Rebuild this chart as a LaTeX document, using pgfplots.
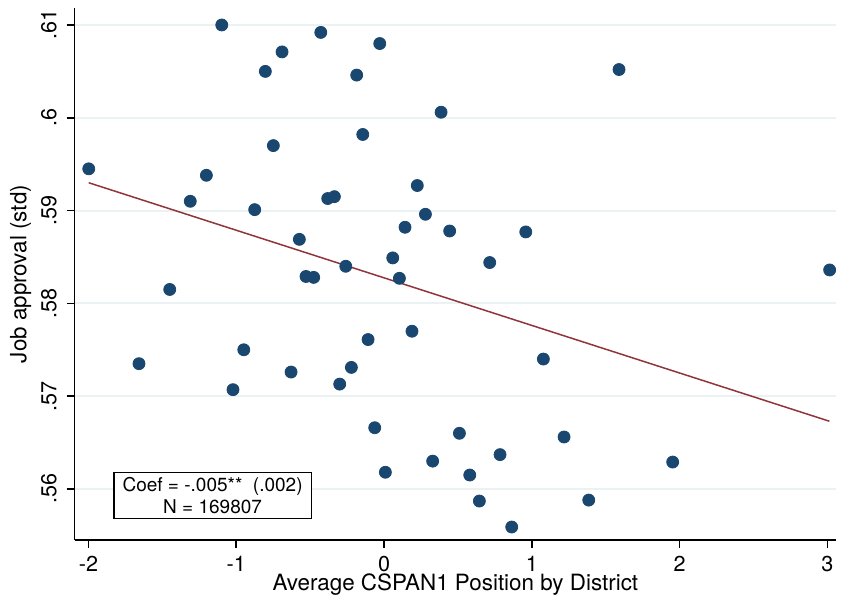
\documentclass[border=0pt]{standalone}
\usepackage{pgfplots}
\pgfplotsset{compat=1.18}
\usepackage{fontspec}
\setmainfont{TeX Gyre Heros}
\definecolor{stnavy}{RGB}{26,71,111}
\definecolor{stmaroon}{RGB}{144,53,59}
\definecolor{stgrid}{RGB}{234,242,243}
\begin{document}
\begin{tikzpicture}
\useasboundingbox (-37.35pt,-30pt) rectangle (383.15pt,270pt);
\begin{axis}[
  at={(0,0)}, anchor=south west,
  scale only axis, width=380.65pt, height=266pt,
  xmin=-2.093, xmax=3.058, ymin=0.5545, ymax=0.61183,
  axis x line*=bottom, axis y line*=left,
  axis line style={black, line width=0.8pt, -},
  xtick={-2,-1,0,1,2,3}, xticklabels={-2,-1,0,1,2,3},
  ytick={0.56,0.57,0.58,0.59,0.6,0.61}, yticklabels={.56,.57,.58,.59,.6,.61},
  tick align=outside, major tick length=4pt,
  tick style={black, line width=0.8pt},
  ymajorgrids, grid style={stgrid, line width=1pt},
  tick label style={font=\fontsize{10.8}{12}\selectfont},
  xticklabel style={yshift=-0.5pt},
  yticklabel style={rotate=90, anchor=south, yshift=1.5pt},
  xlabel={Average CSPAN1 Position by District},
  ylabel={Job approval (std)},
  label style={font=\fontsize{11.2}{13}\selectfont},
  xlabel style={at={(axis description cs:0.5,0)}, anchor=center, yshift=-22.5pt},
  ylabel style={at={(axis description cs:0,0.5)}, anchor=center, yshift=27pt},
  clip=false,
]
\addplot[only marks, mark=*, mark size=3pt, mark options={fill=stnavy, draw=stnavy}] coordinates {
(-1.998,0.5945) (-1.658,0.5735) (-1.450,0.5815) (-1.311,0.5910) (-1.202,0.5938)
(-1.098,0.6100) (-0.949,0.5750) (-1.022,0.5707) (-0.875,0.5901) (-0.803,0.6050)
(-0.749,0.5970) (-0.690,0.6071) (-0.573,0.5869) (-0.528,0.5829) (-0.476,0.5828)
(-0.428,0.6092) (-0.381,0.5913) (-0.336,0.5915) (-0.259,0.5840) (-0.185,0.6046)
(-0.144,0.5982) (-0.029,0.6080) (0.059,0.5849) (0.104,0.5827) (0.142,0.5882)
(0.225,0.5927) (0.386,0.6006) (0.280,0.5896) (0.444,0.5878) (0.959,0.5877)
(0.715,0.5844) (1.590,0.6052) (3.015,0.5836)
(-0.108,0.5761) (-0.221,0.5731) (-0.300,0.5713) (-0.629,0.5726) (-0.063,0.5666)
(0.009,0.5618) (0.189,0.5770)
(1.078,0.5740) (0.510,0.5660) (1.218,0.5656) (0.329,0.5630) (0.785,0.5637)
(0.580,0.5615) (1.953,0.5629) (0.645,0.5587) (1.385,0.5588) (0.864,0.5559)
};
\addplot[stmaroon, line width=0.75pt] coordinates {(-1.998,0.5930) (3.013,0.5673)};
\node[draw=black, line width=0.6pt, fill=white, align=center, inner xsep=4.3pt, inner ysep=2.6pt,
  font=\fontsize{9.5}{10.8}\selectfont] at (axis cs:-1.160,0.5593)
  {Coef = -.005**\ \ (.002)\\N = 169807};
\end{axis}
\end{tikzpicture}
\end{document}
